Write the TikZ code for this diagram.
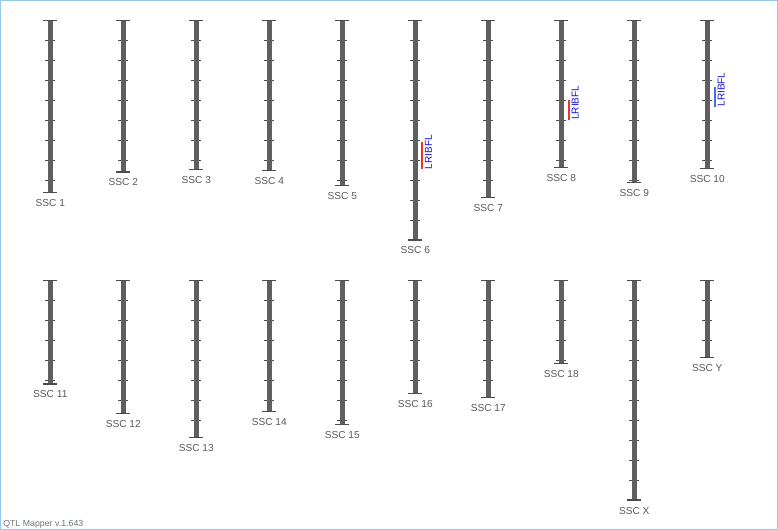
\documentclass[tikz,border=0pt]{standalone}
\usepackage{fontspec}
\setmainfont{Liberation Sans}
\definecolor{barc}{RGB}{95,95,95}
\definecolor{lblc}{RGB}{90,90,90}
\definecolor{framec}{RGB}{150,200,235}
\definecolor{qtlred}{RGB}{240,50,50}
\definecolor{qtlblue}{RGB}{70,110,230}
\definecolor{qtltxt}{RGB}{20,20,230}
\definecolor{footc}{RGB}{110,118,128}
\newcommand\chrom[5]{%
  \pgfmathtruncatemacro\nt{floor((#4-#3-0.5)/20)}%
  \foreach \i in {1,...,\nt} \draw[tickln] (#2-5,#3+20*\i) -- (#2+5,#3+20*\i);
  \draw[barln] (#2,#3) -- (#2,#4);
  \draw[capln] (#2-7,#3) -- (#2+7,#3);
  \draw[capln] (#2-7,#4) -- (#2+7,#4);
  \node[lbl] (#1) at (#2,#4+14) {#5};
}
\tikzset{
  barln/.style={draw=barc, line width=3.75pt},
  tickln/.style={draw=barc!80!black, line width=0.75pt},
  capln/.style={draw=barc!80!black, line width=0.9pt},
  lbl/.style={anchor=base, inner sep=0, text=lblc, font=\fontsize{7.6pt}{9pt}\selectfont},
  qtlline/.style={line width=1.5pt},
  qtllbl/.style={rotate=90, anchor=base west, inner sep=0, text=qtltxt, font=\fontsize{7.5pt}{9pt}\selectfont},
}
\begin{document}
\begin{tikzpicture}[x=0.75pt, y=-0.75pt]
\useasboundingbox (0,0) rectangle (778,530);
\fill[white] (0,0) rectangle (778,530);
\draw[framec, line width=0.75pt] (0.5,0.5) rectangle (777.5,529.5);
% row 1
\chrom{c1}{50.3}{20.7}{192.7}{SSC 1}
\chrom{c2}{123.3}{20.7}{172}{SSC 2}
\chrom{c3}{196.3}{20.7}{169.3}{SSC 3}
\chrom{c4}{269.3}{20.7}{170.7}{SSC 4}
\chrom{c5}{342.3}{20.7}{185.3}{SSC 5}
\chrom{c6}{415.3}{20.7}{240}{SSC 6}
\chrom{c7}{488.3}{20.7}{197.7}{SSC 7}
\chrom{c8}{561.3}{20.7}{167.3}{SSC 8}
\chrom{c9}{634.3}{20.7}{182.3}{SSC 9}
\chrom{c10}{707.3}{20.7}{168.3}{SSC 10}
% row 2
\chrom{c11}{50.3}{280.7}{384}{SSC 11}
\chrom{c12}{123.3}{280.7}{413.3}{SSC 12}
\chrom{c13}{196.3}{280.7}{437.3}{SSC 13}
\chrom{c14}{269.3}{280.7}{411.7}{SSC 14}
\chrom{c15}{342.3}{280.7}{424.3}{SSC 15}
\chrom{c16}{415.3}{280.7}{393.3}{SSC 16}
\chrom{c17}{488.3}{280.7}{397.3}{SSC 17}
\chrom{c18}{561.3}{280.7}{363.3}{SSC 18}
\chrom{cx}{634.3}{280.7}{500}{SSC X}
\chrom{cy}{707.3}{280.7}{357.3}{SSC Y}
% QTLs
\draw[qtlline, qtlred] (422.3,141.7) -- (422.3,169.3);
\node[qtllbl] (q6) at (431.8,169.3) {LRIBFL};
\draw[qtlline, qtlred] (569,100) -- (569,120);
\node[qtllbl] (q8) at (578.5,120) {LRIBFL};
\draw[qtlline, qtlblue] (715,87.3) -- (715,106.7);
\node[qtllbl] (q10) at (724.5,106.7) {LRIBFL};
% footer
\node[anchor=base west, inner sep=0, text=footc, font=\fontsize{6.6pt}{8pt}\selectfont] (foot) at (3,526.5) {QTL Mapper v.1.643};
\end{tikzpicture}
\end{document}
